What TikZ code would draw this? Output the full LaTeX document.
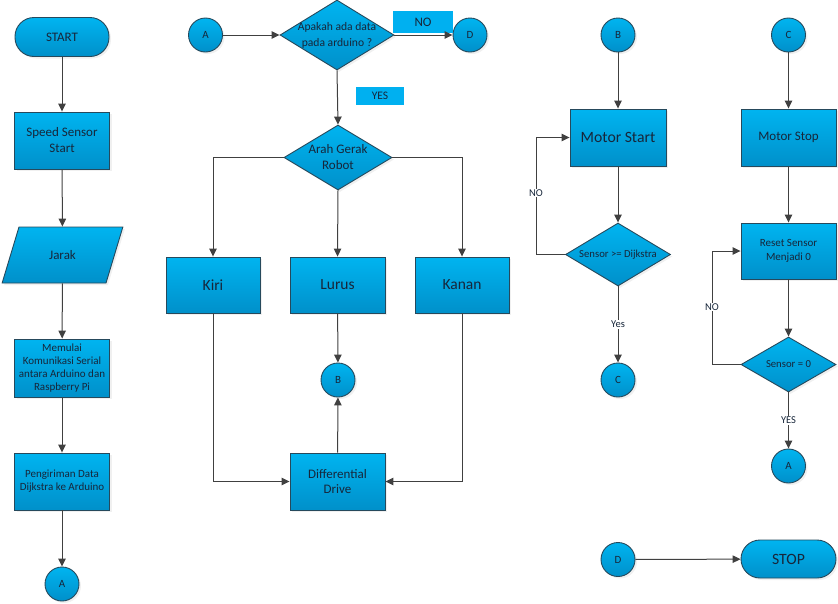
\documentclass[tikz,border=0pt]{standalone}
\usepackage{fontspec}
\setmainfont{Carlito}
\usetikzlibrary{shapes.geometric,arrows.meta,shadows}
\definecolor{ctop}{HTML}{00B4F0}
\definecolor{cbot}{HTML}{0090CA}
\definecolor{cbord}{HTML}{26495C}
\definecolor{cline}{HTML}{404040}
\definecolor{ctext}{HTML}{17263A}
\definecolor{clab}{HTML}{00B0F0}
\newcommand{\fsz}[1]{\fontsize{#1}{#1}\selectfont}
\tikzset{
  base/.style={draw=cbord, line width=0.9pt, top color=ctop, bottom color=cbot,
    text=ctext, align=center, inner sep=1pt,
    drop shadow={opacity=0.12, shadow xshift=2pt, shadow yshift=-2pt}},
  proc/.style={base, rectangle, minimum width=95pt, minimum height=57pt},
  term/.style={base, rectangle, rounded corners=19pt, minimum width=95pt, minimum height=38pt},
  conn/.style={base, circle, minimum size=34pt, inner sep=0pt, font=\fsz{11}},
  dia/.style={base, diamond, inner sep=0pt},
  dtext/.style={text=ctext, align=center, inner sep=0pt},
  para/.style={base, trapezium, trapezium left angle=63.4, trapezium right angle=116.6,
    minimum width=121pt, minimum height=56pt, trapezium stretches=true},
  tag/.style={fill=clab, text=ctext, inner sep=0pt},
  lab/.style={fill=white, text=ctext, inner sep=1pt, font=\fsz{10.5}},
  arr/.style={draw=cline, line width=1pt, -{Triangle[length=8pt,width=7.5pt]}},
}
\begin{document}
\begin{tikzpicture}[x=1pt,y=-1pt]
\useasboundingbox (0,0) rectangle (838,603);
% ---------- left column ----------
\node[term, minimum width=94pt, minimum height=39pt, font=\fsz{13}] (start) at (62,37) {START};
\node[proc, font=\fontsize{13}{16}\selectfont] (sss) at (62,140.5) {Speed Sensor\\Start};
\node[para, font=\fsz{13}] (jarak) at (62.5,255) {Jarak};
\node[proc, minimum height=58pt, font=\fontsize{11}{13}\selectfont] (mem) at (62,368) {Memulai\\Komunikasi Serial\\antara Arduino dan\\Raspberry Pi};
\node[proc, font=\fontsize{11}{13}\selectfont] (peng) at (62,481.5) {Pengiriman Data\\Dijkstra ke Arduino};
\node[conn] (a1) at (62,584) {A};
\draw[arr] (start) -- (sss);
\draw[arr] (sss) -- (jarak);
\draw[arr] (jarak) -- (mem);
\draw[arr] (mem) -- (peng);
\draw[arr] (peng) -- (a1);
% ---------- middle ----------
\node[conn] (a2) at (205.5,35) {A};
\node[dia, minimum width=114pt, minimum height=70pt,
  label={[dtext, font=\fontsize{11.6}{16}\selectfont]center:Apakah ada data\\pada arduino ?}] (dec1) at (337,35) {};
\node[conn] (d1) at (470,35) {D};
\node[tag, minimum width=60pt, minimum height=22pt, font=\fsz{13}] (nolab) at (423,22) {NO};
\node[tag, minimum width=48pt, minimum height=18pt, font=\fsz{11.5}] (yeslab) at (380,96) {YES};
\node[dia, minimum width=108pt, minimum height=65pt,
  label={[dtext, font=\fontsize{13}{16}\selectfont]center:Arah Gerak\\Robot}] (arah) at (338,157.5) {};
\node[proc, minimum width=94pt, minimum height=56pt, font=\fsz{15.5}] (kiri) at (213,285) {Kiri};
\node[proc, minimum width=95pt, minimum height=56pt, font=\fsz{15.5}] (lurus) at (337.5,285) {Lurus};
\node[proc, minimum width=94pt, minimum height=56pt, font=\fsz{15.5}] (kanan) at (462,285) {Kanan};
\node[conn] (b1) at (338,380) {B};
\node[proc, font=\fontsize{13}{15.5}\selectfont] (dd) at (337.5,481.5) {Differential\\Drive};
\draw[arr] (a2) -- (dec1.west);
\draw[arr] (dec1.east) -- (d1);
\draw[arr] (dec1.south) -- (arah.north);
\draw[arr] (arah.west) -| (kiri.north);
\draw[arr] (arah.south) -- (lurus.north);
\draw[arr] (arah.east) -| (kanan.north);
\draw[arr] (lurus) -- (b1);
\draw[arr] (kiri.south) |- (dd.west);
\draw[arr] (kanan.south) |- (dd.east);
\draw[arr] (dd) -- (b1);
% ---------- right: B ----------
\node[conn] (b2) at (618,35) {B};
\node[proc, minimum width=96pt, font=\fsz{15.7}] (ms) at (618,137.5) {Motor Start};
\node[dia, minimum width=105pt, minimum height=63pt,
  label={[dtext, font=\fsz{10.7}]center:Sensor >= Dijkstra}] (sd) at (618,254.5) {};
\node[conn] (c1) at (618,380) {C};
\coordinate (l1) at (536,254.5);
\draw[arr] (b2) -- (ms);
\draw[arr] (ms) -- (sd.north);
\draw[arr] (sd.west) -- (l1) |- (ms.west);
\node[lab] (no1) at (536,193) {NO};
\draw[arr] (sd.south) -- node[lab] (yes1) {Yes} (c1);
% ---------- right: C ----------
\node[conn] (c2) at (788.5,35) {C};
\node[proc, font=\fsz{13}] (mstop) at (788.5,137.5) {Motor Stop};
\node[proc, minimum height=56pt, font=\fontsize{11}{13.5}\selectfont] (reset) at (788.5,251) {Reset Sensor\\Menjadi 0};
\node[dia, minimum width=95pt, minimum height=55pt,
  label={[dtext, font=\fsz{10.7}]center:Sensor = 0}] (s0) at (788.5,364.5) {};
\node[conn] (a3) at (788.5,466) {A};
\coordinate (l2) at (712,364.5);
\draw[arr] (c2) -- (mstop);
\draw[arr] (mstop) -- (reset);
\draw[arr] (reset) -- (s0.north);
\draw[arr] (s0.west) -- (l2) |- (reset.west);
\node[lab] (no2) at (712,307) {NO};
\draw[arr] (s0.south) -- node[lab] (yes2) {YES} (a3);
% ---------- D -> STOP ----------
\node[conn] (d2) at (618,559.5) {D};
\node[term, font=\fsz{15.7}] (stop) at (788.5,559) {STOP};
\draw[arr] (d2) -- (stop);
\end{tikzpicture}
\end{document}
